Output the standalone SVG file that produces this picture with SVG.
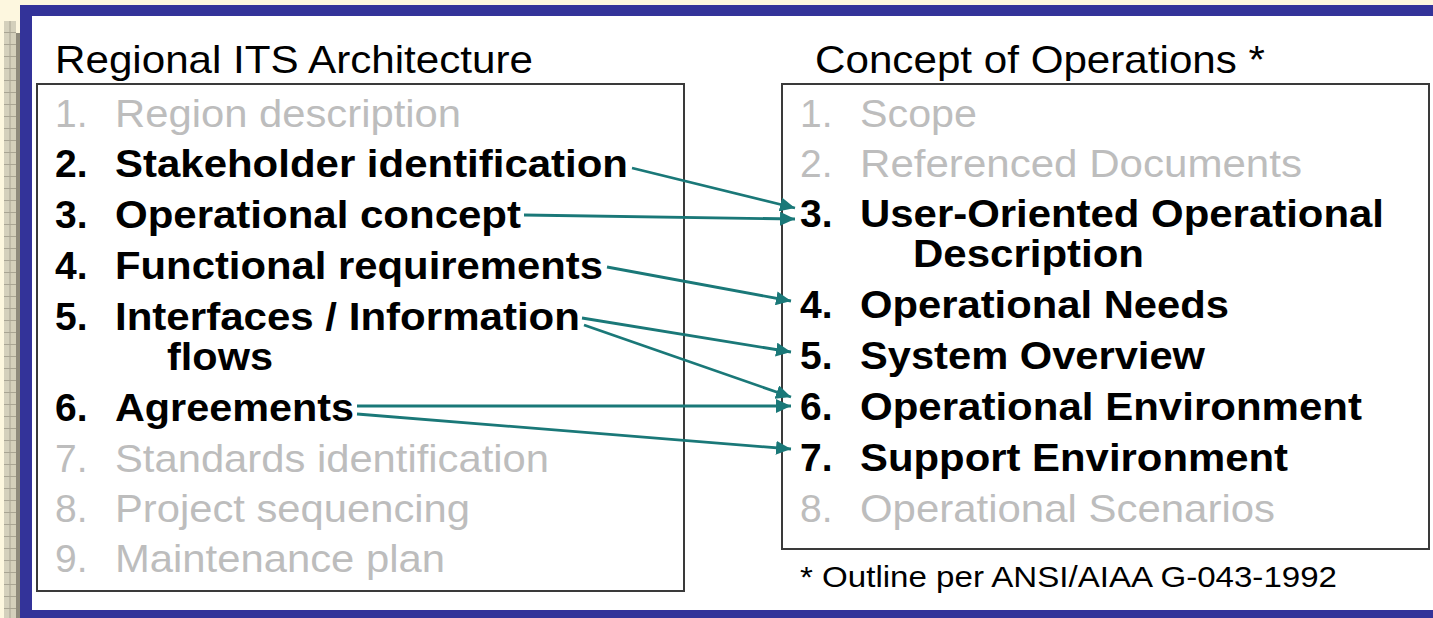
<svg xmlns="http://www.w3.org/2000/svg" width="1433" height="618" viewBox="0 0 1433 618">
  <defs>
    <style>
      .t { font-family: "Liberation Sans", Arial, sans-serif; font-size: 39px; }
      .b { font-weight: bold; fill: #000; }
      .g { fill: #bdbdbd; }
      .k { fill: #000; }
      .conn { stroke: #1a7878; stroke-width: 2.8; fill: none; marker-end: url(#ah); }
      .box { fill: #fff; stroke: #3a3a3a; stroke-width: 2; }
    </style>
    <marker id="ah" markerUnits="userSpaceOnUse" markerWidth="16" markerHeight="14" refX="15" refY="7" orient="auto">
      <path d="M0,0 L15,7 L0,14 z" fill="#1a7878"/>
    </marker>
    <pattern id="grid" x="4" y="21" width="12" height="12" patternUnits="userSpaceOnUse">
      <rect width="12" height="12" fill="#d4d0bc"/>
      <path d="M0,11.5 H12 M6,0 V12" stroke="#a9a594" stroke-width="1"/>
    </pattern>
  </defs>

  <!-- background -->
  <rect x="0" y="0" width="1433" height="618" fill="#fdf7df"/>
  <rect x="4" y="21" width="12" height="597" fill="url(#grid)"/>
  <rect x="16" y="33" width="4" height="585" fill="#8e8a7c"/>
  <rect x="20" y="5" width="1413" height="613" fill="#333399"/>
  <rect x="32" y="16" width="1401" height="594" fill="#ffffff"/>

  <!-- left box -->
  <g id="left-box">
    <rect class="box" x="37" y="84" width="647" height="507"/>
    <text class="t k" x="55" y="73" textLength="478" lengthAdjust="spacingAndGlyphs">Regional ITS Architecture</text>
  </g>
  <g id="l1"><text class="t g" x="55" y="127">1.</text><text class="t g" x="115" y="127" textLength="346" lengthAdjust="spacingAndGlyphs">Region description</text></g>
  <g id="l2"><text class="t b" x="55" y="177">2.</text><text class="t b" x="115" y="177" textLength="513" lengthAdjust="spacingAndGlyphs">Stakeholder identification</text></g>
  <g id="l3"><text class="t b" x="55" y="228">3.</text><text class="t b" x="115" y="228" textLength="406" lengthAdjust="spacingAndGlyphs">Operational concept</text></g>
  <g id="l4"><text class="t b" x="55" y="279">4.</text><text class="t b" x="115" y="279" textLength="488" lengthAdjust="spacingAndGlyphs">Functional requirements</text></g>
  <g id="l5"><text class="t b" x="55" y="330">5.</text><text class="t b" x="115" y="330" textLength="465" lengthAdjust="spacingAndGlyphs">Interfaces / Information</text><text class="t b" x="167" y="370" textLength="106" lengthAdjust="spacingAndGlyphs">flows</text></g>
  <g id="l6"><text class="t b" x="55" y="421">6.</text><text class="t b" x="115" y="421" textLength="239" lengthAdjust="spacingAndGlyphs">Agreements</text></g>
  <g id="l7"><text class="t g" x="55" y="472">7.</text><text class="t g" x="115" y="472" textLength="434" lengthAdjust="spacingAndGlyphs">Standards identification</text></g>
  <g id="l8"><text class="t g" x="55" y="522">8.</text><text class="t g" x="115" y="522" textLength="355" lengthAdjust="spacingAndGlyphs">Project sequencing</text></g>
  <g id="l9"><text class="t g" x="55" y="572">9.</text><text class="t g" x="115" y="572" textLength="330" lengthAdjust="spacingAndGlyphs">Maintenance plan</text></g>

  <!-- right box -->
  <g id="right-box">
    <rect class="box" x="782" y="84" width="647" height="465" stroke="#4a4a4a"/>
    <text class="t k" x="815" y="73" textLength="450" lengthAdjust="spacingAndGlyphs">Concept of Operations *</text>
    <text class="t k" x="800" y="587" style="font-size:30px" textLength="537" lengthAdjust="spacingAndGlyphs">* Outline per ANSI/AIAA G-043-1992</text>
  </g>
  <g id="r1"><text class="t g" x="800" y="127">1.</text><text class="t g" x="860" y="127" textLength="117" lengthAdjust="spacingAndGlyphs">Scope</text></g>
  <g id="r2"><text class="t g" x="800" y="177">2.</text><text class="t g" x="860" y="177" textLength="442" lengthAdjust="spacingAndGlyphs">Referenced Documents</text></g>
  <g id="r3"><text class="t b" x="800" y="227">3.</text><text class="t b" x="860" y="227" textLength="524" lengthAdjust="spacingAndGlyphs">User-Oriented Operational</text><text class="t b" x="913" y="267" textLength="231" lengthAdjust="spacingAndGlyphs">Description</text></g>
  <g id="r4"><text class="t b" x="800" y="318">4.</text><text class="t b" x="860" y="318" textLength="369" lengthAdjust="spacingAndGlyphs">Operational Needs</text></g>
  <g id="r5"><text class="t b" x="800" y="369">5.</text><text class="t b" x="860" y="369" textLength="345" lengthAdjust="spacingAndGlyphs">System Overview</text></g>
  <g id="r6"><text class="t b" x="800" y="420">6.</text><text class="t b" x="860" y="420" textLength="502" lengthAdjust="spacingAndGlyphs">Operational Environment</text></g>
  <g id="r7"><text class="t b" x="800" y="471">7.</text><text class="t b" x="860" y="471" textLength="428" lengthAdjust="spacingAndGlyphs">Support Environment</text></g>
  <g id="r8"><text class="t g" x="800" y="522">8.</text><text class="t g" x="860" y="522" textLength="415" lengthAdjust="spacingAndGlyphs">Operational Scenarios</text></g>

  <!-- connectors -->
  <g id="connectors">
    <line class="conn" x1="632" y1="168" x2="795" y2="208"/>
    <line class="conn" x1="524" y1="215" x2="795" y2="219"/>
    <line class="conn" x1="607" y1="267" x2="791" y2="301"/>
    <line class="conn" x1="582" y1="318" x2="791" y2="352"/>
    <line class="conn" x1="584" y1="325" x2="791" y2="397"/>
    <line class="conn" x1="357" y1="406" x2="791" y2="406"/>
    <line class="conn" x1="357" y1="414" x2="791" y2="449"/>
  </g>
</svg>
